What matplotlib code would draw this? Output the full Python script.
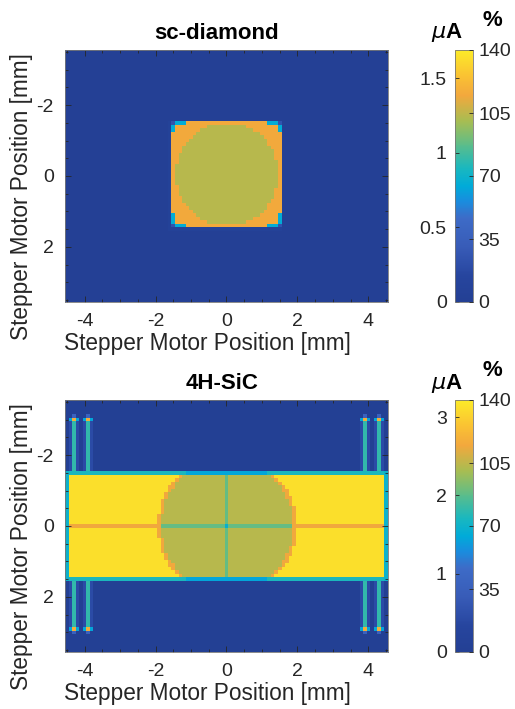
import numpy as np
import matplotlib
matplotlib.use("Agg")
import matplotlib.pyplot as plt
from matplotlib.colors import LinearSegmentedColormap
from matplotlib.ticker import MultipleLocator

# ---------------- data ----------------
titles = ["sc-diamond", "4H-SiC"]
x_label = "Stepper Motor Position [mm]"
y_label = "Stepper Motor Position [mm]"
x_ticks = [-4, -2, 0, 2, 4]
y_ticks = [-2, 0, 2]
ua_ticks = [[0, 0.5, 1, 1.5], [0, 1, 2, 3]]
ua_max = [1.69, 3.22]          # current at the top of each colour bar (µA)
pct_ticks = [0, 35, 70, 105, 140]
pct_max = 140

# scan grid (mm), 0.1 mm steps
grid_x = [-4.5, 4.5]
grid_y = [-3.5, 3.5]
grid_step = 0.1

# sc-diamond map: square sample with circular electrode
diamond_background = 0.02
diamond_square = [-1.5, 1.5, -1.5, 1.4]      # x0, x1, y0, y1 (cell centres)
diamond_circle = [0.02, -0.05, 1.45]          # cx, cy, r
diamond_corner_level = 1.39
diamond_circle_level = 1.25
diamond_edge_level = 0.79
diamond_corner_cell = 0.30
diamond_halo_level = 0.08

# 4H-SiC map: horizontal strip sample with circular electrode
sic_background = 0.03
sic_band = [-4.5, 4.5, -1.5, 1.5]             # x0, x1, y0, y1 (cell centres)
sic_circle = [0.02, 0.0, 1.86]                # cx, cy, r
sic_band_level = 3.12
sic_circle_level = 2.38
sic_ring_level = 2.64
sic_hline_level = 2.64
sic_cross_level = 2.05
sic_centre_level = 1.55
sic_edge_level = 1.72
sic_edge_circle_level = 1.45
sic_side_edge_level = 1.60
sic_strip_x = [-4.3, -3.9, 3.9, 4.3]
sic_strip_y = [-3.0, 2.9]
sic_strip_level = 1.82
sic_strip_halo = 0.45
sic_dot_level = 2.70
sic_dot_side = 1.45

# parula-like colour map anchors (position, rgb) matched to the picture
cmap_pos = [0.00, 0.10, 0.22, 0.33, 0.40, 0.46, 0.53, 0.62, 0.72, 0.82, 0.90, 1.00]
cmap_rgb = [(0.14, 0.25, 0.58), (0.15, 0.27, 0.62), (0.22, 0.36, 0.72),
            (0.24, 0.42, 0.78), (0.10, 0.55, 0.87), (0.00, 0.67, 0.85),
            (0.10, 0.72, 0.75), (0.35, 0.74, 0.55), (0.66, 0.74, 0.32),
            (0.95, 0.66, 0.24), (0.98, 0.76, 0.20), (0.99, 0.92, 0.16)]
cmap = LinearSegmentedColormap.from_list("parula_like", list(zip(cmap_pos, cmap_rgb)), N=256)

# ---------------- build the maps ----------------
def make_grid():
    nx = int(round((grid_x[1] - grid_x[0]) / grid_step)) + 1
    ny = int(round((grid_y[1] - grid_y[0]) / grid_step)) + 1
    xs = np.round(grid_x[0] + np.arange(nx) * grid_step, 3)
    ys = np.round(grid_y[0] + np.arange(ny) * grid_step, 3)
    return np.meshgrid(xs, ys)

X, Y = make_grid()
eps = 1e-6

def near(a, v):
    return np.abs(a - v) < eps

def between(a, lo, hi):
    return (a >= lo - eps) & (a <= hi + eps)

# diamond
Zd = np.full(X.shape, diamond_background)
x0, x1, y0, y1 = diamond_square
sq = between(X, x0, x1) & between(Y, y0, y1)
Zd[between(X, x0 - grid_step, x1) & between(Y, y0, y1 + grid_step)] = diamond_halo_level
Zd[sq] = diamond_corner_level
cx, cy, r = diamond_circle
Zd[sq & ((X - cx) ** 2 + (Y - cy) ** 2 <= r ** 2)] = diamond_circle_level
side = (near(X, x0) | near(X, x1)) & sq & (np.abs(Y - cy) > 1.15)
topbot = (near(Y, y0) | near(Y, y1)) & sq & (np.abs(X - cx) > 1.15)
Zd[side | topbot] = diamond_edge_level
corner = (near(X, x0) | near(X, x1)) & (near(Y, y0) | near(Y, y1))
Zd[corner] = diamond_corner_cell

# SiC
Zs = np.full(X.shape, sic_background)
bx0, bx1, by0, by1 = sic_band
band = between(X, bx0, bx1) & between(Y, by0, by1)
cx, cy, r = sic_circle
dist = np.sqrt((X - cx) ** 2 + (Y - cy) ** 2)
circ = dist <= r
ring = (dist > r) & (dist <= r + grid_step)
Zs[band] = sic_band_level
Zs[band & circ] = sic_circle_level
Zs[band & ring] = sic_ring_level
Zs[band & near(Y, 0) & ~circ] = sic_hline_level
Zs[band & near(Y, 0) & circ] = sic_cross_level
Zs[band & near(X, 0) & circ] = sic_cross_level
Zs[near(X, 0) & near(Y, 0)] = sic_centre_level
edge_rows = band & (near(Y, by0) | near(Y, by1))
Zs[edge_rows] = sic_edge_level
Zs[edge_rows & (np.abs(X - cx) < 1.15)] = sic_edge_circle_level
Zs[band & (near(X, bx0) | near(X, bx1))] = sic_side_edge_level
outside = ~band
for sx in sic_strip_x:
    span = between(Y, sic_strip_y[0], sic_strip_y[1]) & outside
    for d in (-grid_step, grid_step):
        Zs[near(X, sx + d) & span] = sic_strip_halo
    Zs[near(X, sx) & span] = sic_strip_level
for sx in sic_strip_x:
    for sy in sic_strip_y:
        out = -grid_step if sy < 0 else grid_step
        Zs[near(X, sx) & near(Y, sy + out)] = sic_dot_side * 0.6
        for d in (-grid_step, grid_step):
            Zs[near(X, sx + d) & near(Y, sy)] = sic_dot_side
        Zs[near(X, sx) & near(Y, sy)] = sic_dot_level

maps = [Zd, Zs]

# ---------------- draw ----------------
plt.rcParams['font.family'] = ['Liberation Sans', 'DejaVu Sans']
plt.rcParams['axes.unicode_minus'] = False
text_col = (0.15, 0.15, 0.15)

W, H = 515, 709
fig = plt.figure(figsize=(W / 100, H / 100), dpi=100)

def rect(l, t, r_, b):
    return [l / W, 1 - b / H, (r_ - l) / W, (b - t) / H]

ax_boxes = [(65, 50, 388, 302), (65, 400, 388, 652)]
cb_boxes = [(455, 50, 473, 302), (455, 400, 473, 652)]
title_x = [0.47, 0.485]

half = grid_step / 2
extent = [grid_x[0] - half, grid_x[1] + half, grid_y[1] + half, grid_y[0] - half]

for i in range(2):
    ax = fig.add_axes(rect(*ax_boxes[i]))
    im = ax.imshow(maps[i], cmap=cmap, vmin=0, vmax=ua_max[i], extent=extent,
                   origin='upper', interpolation='nearest', aspect='auto')
    ax.set_xlim(grid_x[0] - half, grid_x[1] + half)
    ax.set_ylim(grid_y[1] + half, grid_y[0] - half)
    ax.set_xticks(x_ticks)
    ax.set_yticks(y_ticks)
    ax.xaxis.set_minor_locator(MultipleLocator(0.5))
    ax.yaxis.set_minor_locator(MultipleLocator(0.5))
    ax.tick_params(which='both', direction='in', top=True, right=True,
                   colors=text_col, labelsize=14, width=0.6)
    ax.tick_params(which='major', length=4, pad=8)
    ax.tick_params(which='minor', length=2)
    for s in ax.spines.values():
        s.set_color('#777777')
        s.set_linewidth(0.6)
    ax.set_title(titles[i], fontsize=16, fontweight='bold', color='black', pad=8, x=title_x[i])
    ax.set_xlabel(x_label, fontsize=16.3, color=text_col)
    ax.set_ylabel(y_label, fontsize=16.3, color=text_col)
    ax.xaxis.set_label_coords(0.44, -0.12)
    ax.yaxis.set_label_coords(-0.10, 0.42)

    cax = fig.add_axes(rect(*cb_boxes[i]))
    cb = fig.colorbar(im, cax=cax, ticklocation='left')
    cb.set_ticks(ua_ticks[i])
    cb.set_ticklabels([f"{t:g}" for t in ua_ticks[i]])
    cb.outline.set_edgecolor('#777777')
    cb.outline.set_linewidth(0.6)
    cax.tick_params(direction='in', length=3, colors=text_col, labelsize=14, pad=6, width=0.6)

    pax = fig.add_axes(rect(*cb_boxes[i]))
    pax.patch.set_visible(False)
    for s in pax.spines.values():
        s.set_visible(False)
    pax.set_xticks([])
    pax.set_ylim(0, pct_max)
    pax.set_yticks(pct_ticks)
    pax.yaxis.tick_right()
    pax.tick_params(direction='in', length=3, colors=text_col, labelsize=14, pad=4, width=0.6)

    t = cb_boxes[i][1]
    fig.text(447 / W, 1 - (t - 17) / H, r"$\mu$A", fontsize=16, fontweight='bold',
             ha='center', va='center', color='black')
    fig.text(492 / W, 1 - (t - 30) / H, "%", fontsize=16, fontweight='bold',
             ha='center', va='center', color='black')

fig.savefig("out.png", dpi=100)
